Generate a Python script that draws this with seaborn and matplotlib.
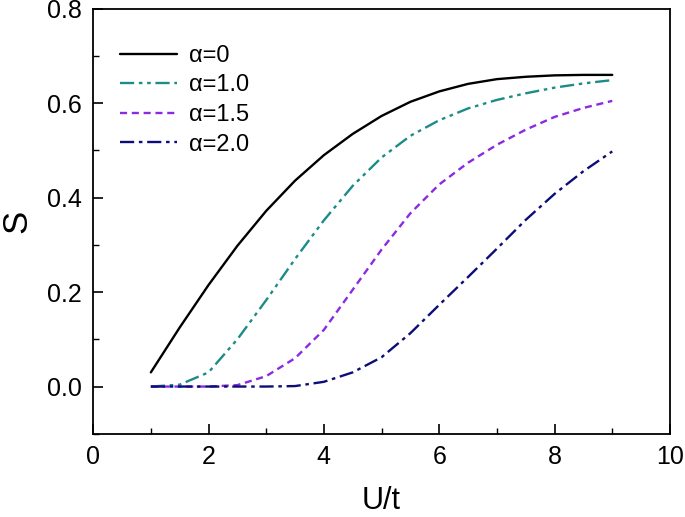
import numpy as np
import pandas as pd
import matplotlib
matplotlib.use('Agg')
import matplotlib.pyplot as plt
import seaborn as sns
from matplotlib.ticker import MultipleLocator, FormatStrFormatter

# Valores (S em função de U/t)
u_t = [1.0, 1.5, 2.0, 2.5, 3.0, 3.5, 4.0, 4.5, 5.0, 5.5, 6.0, 6.5, 7.0, 7.5, 8.0, 8.5, 9.0]
s_alpha_0 = [0.03, 0.125, 0.215, 0.298, 0.372, 0.436, 0.49, 0.535, 0.573, 0.603, 0.625, 0.641, 0.651, 0.656, 0.659, 0.660, 0.660]
s_alpha_10 = [0.0, 0.004, 0.03, 0.1, 0.183, 0.27, 0.352, 0.425, 0.485, 0.531, 0.564, 0.589, 0.607, 0.621, 0.633, 0.642, 0.649]
s_alpha_15 = [0.0, 0.0, 0.0, 0.003, 0.022, 0.06, 0.12, 0.205, 0.29, 0.367, 0.428, 0.474, 0.512, 0.544, 0.571, 0.59, 0.605]
s_alpha_20 = [0.0, 0.0, 0.0, 0.0, 0.0, 0.001, 0.01, 0.03, 0.062, 0.113, 0.173, 0.232, 0.292, 0.353, 0.408, 0.456, 0.498]

rotulos = ['\u03b1=0', '\u03b1=1.0', '\u03b1=1.5', '\u03b1=2.0']
cores = ['black', '#1b8c88', '#8a2be2', '#0d0d7a']
estilos = ['-', (0, (6, 2, 1.5, 2, 1.5, 2)), (0, (3, 2)), (0, (6, 2, 1.5, 2))]

sns.set_style('ticks')
plt.rcParams['font.family'] = ['Liberation Sans', 'DejaVu Sans']
plt.rcParams['text.color'] = 'black'
plt.rcParams['axes.labelcolor'] = 'black'
plt.rcParams['xtick.color'] = 'black'
plt.rcParams['ytick.color'] = 'black'
plt.rcParams['axes.edgecolor'] = 'black'

fig = plt.figure(figsize=(6.85, 5.17), dpi=100)
ax = fig.add_axes([0.136, 0.161, 0.842, 0.822])

series = [s_alpha_0, s_alpha_10, s_alpha_15, s_alpha_20]
for s, rot, cor, est in zip(series, rotulos, cores, estilos):
    df = pd.DataFrame({'U/t': u_t, 'S': s})
    sns.lineplot(data=df, x='U/t', y='S', ax=ax, color=cor, label=rot, linewidth=1.7)
    ax.lines[-1].set_linestyle(est)

ax.set_xlim(0, 10)
ax.set_ylim(-0.1, 0.8)
ax.xaxis.set_major_locator(MultipleLocator(2))
ax.xaxis.set_minor_locator(MultipleLocator(1))
ax.yaxis.set_major_locator(MultipleLocator(0.2))
ax.yaxis.set_minor_locator(MultipleLocator(0.1))
ax.yaxis.set_major_formatter(FormatStrFormatter('%.1f'))
ax.tick_params(which='major', direction='in', length=7, width=1.2, labelsize=18, pad=8)
ax.tick_params(which='minor', direction='in', length=4, width=1.0)
ax.tick_params(top=False, right=False, which='both')
for sp in ax.spines.values():
    sp.set_linewidth(1.3)
    sp.set_visible(True)

ax.set_xlabel('U/t', fontsize=22, labelpad=12)
ax.set_ylabel('S', fontsize=25, labelpad=10)

leg = ax.legend(loc='upper left', frameon=False, fontsize=17, handlelength=2.4,
                labelspacing=0.32, handletextpad=0.5, bbox_to_anchor=(0.01, 0.965))
for h, est in zip(leg.get_lines(), estilos):
    h.set_linestyle(est)

fig.savefig('out.png', dpi=100)
